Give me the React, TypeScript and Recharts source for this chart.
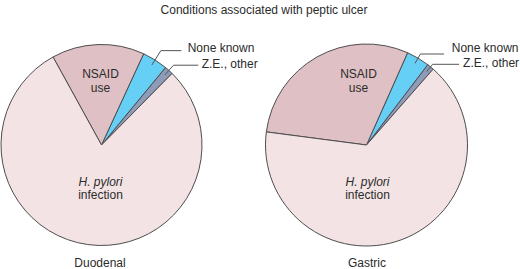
import React from "react";
import { PieChart, Pie, Cell } from "recharts";

const categories = ["Z.E., other", "None known", "NSAID use", "H. pylori infection"];
const duodenalValues = [1.4, 4.1, 14.9, 79.6];
const gastricValues = [1.1, 3.7, 29.6, 65.6];
const pieTitles = ["Duodenal", "Gastric"];
const chartTitle = "Conditions associated with peptic ulcer";

const colors = ["#8e9bb9", "#66cff5", "#dfc0c4", "#f3e3e4"];
const STROKE = "#4d4d4d";
const TEXT = "#2b2b2b";
const FONT = "'Liberation Sans', Arial, Helvetica, sans-serif";

const makeData = (vals: number[]) => categories.map((name, i) => ({ name, value: vals[i] }));

type Leader = { elbow: number; len: number; gap: number; dy: number };
type LabelCfg = {
  nsaid: [number, number];
  hp: [number, number];
  none: Leader;
  ze: Leader;
};

const leftCfg: LabelCfg = {
  nsaid: [-1, -67.5],
  hp: [-1, 40.5],
  none: { elbow: 11, len: 20.5, gap: 6.3, dy: 1 },
  ze: { elbow: 7, len: 24.7, gap: 3.4, dy: 3 },
};
const rightCfg: LabelCfg = {
  nsaid: [-8, -67.5],
  hp: [1, 40.5],
  none: { elbow: 4.8, len: 23.6, gap: 7.7, dy: -2 },
  ze: { elbow: 3.3, len: 26.5, gap: 4, dy: 3 },
};

const RAD = Math.PI / 180;

const makeLabel = (cfg: LabelCfg) => (props: any) => {
  const { cx, cy, midAngle, outerRadius, index } = props;
  const name = categories[index];
  if (index === 2) {
    const x = cx + cfg.nsaid[0];
    const y = cy + cfg.nsaid[1];
    return (
      <text x={x} y={y} textAnchor="middle" fill={TEXT} fontSize={12} fontFamily={FONT}>
        <tspan x={x} dy={0}>NSAID</tspan>
        <tspan x={x} dy={14}>use</tspan>
      </text>
    );
  }
  if (index === 3) {
    const x = cx + cfg.hp[0];
    const y = cy + cfg.hp[1];
    return (
      <text x={x} y={y} textAnchor="middle" fill={TEXT} fontSize={12} fontFamily={FONT}>
        <tspan x={x} dy={0} fontStyle="italic">H. pylori</tspan>
        <tspan x={x} dy={13}>infection</tspan>
      </text>
    );
  }
  const ld = index === 1 ? cfg.none : cfg.ze;
  const cos = Math.cos(-midAngle * RAD);
  const sin = Math.sin(-midAngle * RAD);
  const sx = cx + (outerRadius - 6) * cos;
  const sy = cy + (outerRadius - 6) * sin;
  const ex = cx + (outerRadius + ld.elbow) * cos;
  const ey = cy + (outerRadius + ld.elbow) * sin;
  const hx = ex + ld.len;
  return (
    <g>
      <polyline points={`${sx},${sy} ${ex},${ey} ${hx},${ey}`} fill="none" stroke="#555" strokeWidth={1} />
      <text x={hx + ld.gap} y={ey + ld.dy} textAnchor="start" fill={TEXT} fontSize={12} fontFamily={FONT}>
        {name}
      </text>
    </g>
  );
};

export default function App() {
  const duo = makeData(duodenalValues);
  const gas = makeData(gastricValues);
  return (
    <div style={{ position: "absolute", left: 0, top: 0, width: 520, height: 269, background: "#fff" }}>
      <PieChart width={520} height={269} margin={{ top: 0, right: 0, bottom: 0, left: 0 }}>
        <text x={264} y={14} textAnchor="middle" fill={TEXT} fontSize={12} fontFamily={FONT}>
          {chartTitle}
        </text>
        <Pie
          data={duo}
          dataKey="value"
          nameKey="name"
          cx={101.5}
          cy={145}
          outerRadius={100.5}
          startAngle={45.4}
          endAngle={405.4}
          stroke={STROKE}
          strokeWidth={1}
          isAnimationActive={false}
          labelLine={false}
          label={makeLabel(leftCfg)}
        >
          {duo.map((d, i) => (
            <Cell key={d.name} fill={colors[i]} />
          ))}
        </Pie>
        <Pie
          data={gas}
          dataKey="value"
          nameKey="name"
          cx={366.5}
          cy={145}
          outerRadius={101}
          startAngle={48.7}
          endAngle={408.7}
          stroke={STROKE}
          strokeWidth={1}
          isAnimationActive={false}
          labelLine={false}
          label={makeLabel(rightCfg)}
        >
          {gas.map((d, i) => (
            <Cell key={d.name} fill={colors[i]} />
          ))}
        </Pie>
        <text x={100} y={267} textAnchor="middle" fill={TEXT} fontSize={12} fontFamily={FONT}>
          {pieTitles[0]}
        </text>
        <text x={367} y={267} textAnchor="middle" fill={TEXT} fontSize={12} fontFamily={FONT}>
          {pieTitles[1]}
        </text>
      </PieChart>
    </div>
  );
}
